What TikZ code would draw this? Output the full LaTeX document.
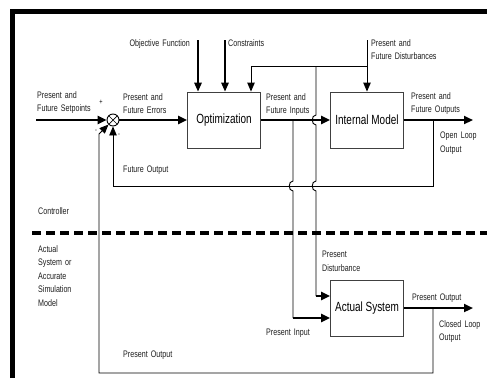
\documentclass[tikz,border=0pt]{standalone}
\usepackage{fontspec}
\newfontfamily\lblfont[FakeStretch=0.75]{Liberation Sans}
\usetikzlibrary{arrows.meta, positioning, calc}
\definecolor{linegray}{RGB}{30,30,30}
\tikzset{
  lbl/.style={anchor=north west, inner sep=0pt, text width=85pt, align=left, text=linegray,
    font=\lblfont\fontsize{9.5}{13.5}\selectfont},
  signlbl/.style={inner sep=0pt, font=\lblfont\fontsize{7.5}{8}\selectfont},
  blockbox/.style={rectangle, draw=black!75, line width=0.9pt, minimum width=73pt,
    minimum height=56pt, inner sep=0pt, font=\lblfont\fontsize{13.3}{15}\selectfont},
  sumjn/.style={circle, draw, line width=0.9pt, minimum size=12pt, inner sep=0pt,
    path picture={\draw[line width=0.7pt] (path picture bounding box.north west) -- (path picture bounding box.south east)
      (path picture bounding box.north east) -- (path picture bounding box.south west);}},
  thickarrow/.style={line width=2.2pt, -{Triangle[length=9pt,width=8pt]}},
  medarrow/.style={line width=1.6pt, -{Triangle[length=9pt,width=7.5pt]}},
  thinarrow/.style={line width=0.9pt, -{Triangle[length=9pt,width=7.5pt]}},
  thinline/.style={line width=0.9pt},
  divider/.style={line width=3.5pt, dash pattern=on 9pt off 5pt}
}
\begin{document}
\begin{tikzpicture}[x=1pt, y=-1pt]
  \useasboundingbox (0,0) rectangle (487,378);
  \draw[line width=4.5pt] (12.5,378) -- (12.5,11.5) -- (487,11.5);
  \draw[divider] (32,233) -- (487,233);

  \node[blockbox] (opt) at (224,120) {Optimization};
  \node[blockbox] (model) at (367,120) {Internal Model};
  \node[blockbox] (plant) at (367,308) {Actual System};
  \node[sumjn] (sum) at (113,120) {};

  \coordinate (spin) at (36,120);
  \coordinate (objin) at (198,40);
  \coordinate (conin) at (225,40);
  \coordinate (distin) at (367,40);
  \coordinate (djn) at (367,66);
  \coordinate (ojn) at (251,66);
  \coordinate (dbr) at (316,66);
  \coordinate (ubr) at (293,120);
  \coordinate (yout) at (473,120);
  \coordinate (ybr) at (433,120);
  \coordinate (pout) at (473,308);
  \coordinate (pbr) at (433,308);
  \coordinate (fbk) at (0,186);
  \coordinate (lowfb) at (0,373);
  \coordinate (turn) at (99,134);
  \coordinate (pin) at (293,318);
  \coordinate (din) at (316,296);

  \draw[thickarrow] (spin) -- (sum);
  \draw[thickarrow] (sum) -- (opt);
  \draw[medarrow] (objin) -- (objin |- opt.north);
  \draw[medarrow] (conin) -- (conin |- opt.north);
  \draw[thinarrow] (distin) -- (model);
  \draw[thinarrow] (djn) -- (ojn) -- (ojn |- opt.north);
  \draw[thickarrow] (opt) -- (model);
  \draw[thickarrow] (model) -- (yout);
  \draw[thinarrow] (ybr) -- (ybr |- fbk) -- (sum.south |- fbk) -- (sum.south);
  \draw[thickarrow] (plant) -- (pout);
  \draw[thinarrow] (pbr) -- (pbr |- lowfb) -- (turn |- lowfb) -- (turn) -- (sum.south west);

  \draw[thinline] (ubr) -- ([yshift=5pt]ubr |- fbk) .. controls +(-5,0) and +(-5,0) .. ([yshift=-5pt]ubr |- fbk) -- (pin);
  \draw[thickarrow] (pin) -- (pin -| plant.west);
  \draw[thinline] (dbr) -- ([yshift=5pt]dbr |- opt.east) .. controls +(-5,0) and +(-5,0) .. ([yshift=-5pt]dbr |- opt.east)
    -- ([yshift=5pt]dbr |- fbk) .. controls +(-5,0) and +(-5,0) .. ([yshift=-5pt]dbr |- fbk) -- (din);
  \draw[thickarrow] (din) -- (din -| plant.west);

  \node[signlbl] (plus) at (101,102) {+};
  \node[signlbl] (minusa) at (96,131) {-};
  \node[signlbl] (minusb) at (119,135) {-};

  \node[lbl] (setlbl) at (37,91) {Present and\\Future Setpoints};
  \node[lbl] (errlbl) at (123,93) {Present and\\Future Errors};
  \node[lbl, anchor=north east, align=right] (objlbl) at (190,39) {Objective Function};
  \node[lbl] (conlbl) at (228,39) {Constraints};
  \node[lbl] (distlbl) at (371,39) {Present and\\Future Disturbances};
  \node[lbl] (inlbl) at (266,93) {Present and\\Future Inputs};
  \node[lbl] (outlbl) at (411,92) {Present and\\Future Outputs};
  \node[lbl] (openlbl) at (440,132) {Open Loop\\Output};
  \node[lbl] (fblbl) at (123,166) {Future Output};
  \node[lbl] (ctrllbl) at (38,207) {Controller};
  \node[lbl] (syslbl) at (38,245) {Actual\\System or\\Accurate\\Simulation\\Model};
  \node[lbl] (pdlbl) at (322,251) {Present\\Disturbance};
  \node[lbl] (pilbl) at (266,329) {Present Input};
  \node[lbl] (polbl) at (412,294) {Present Output};
  \node[lbl] (closedlbl) at (439,320) {Closed Loop\\Output};
  \node[lbl] (pfblbl) at (123,351) {Present Output};
\end{tikzpicture}
\end{document}
